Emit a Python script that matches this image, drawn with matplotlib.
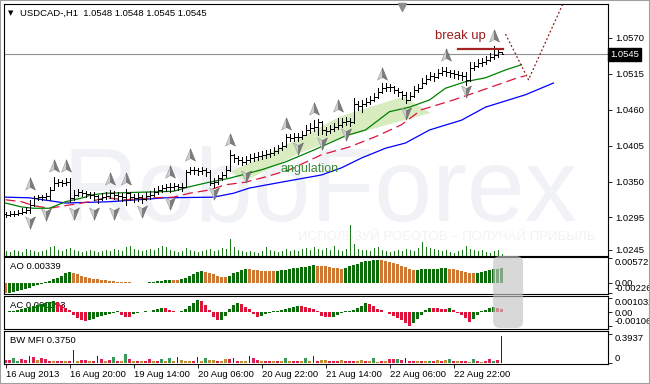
import matplotlib
matplotlib.use('Agg')
import matplotlib.pyplot as plt
import numpy as np
from matplotlib.path import Path
from matplotlib.patches import Polygon, FancyBboxPatch, Rectangle
from matplotlib.transforms import IdentityTransform, blended_transform_factory

plt.rcParams['font.family'] = ['Liberation Sans', 'DejaVu Sans']

symbol = 'USDCAD-,H1'
last_quote = [1.0548, 1.0548, 1.0545, 1.0545]
bid = 1.0545

# H1 bars, one per hour
opens = [1.0300, 1.0299, 1.0300, 1.0300, 1.0302, 1.0303, 1.0306, 1.0314, 1.0325, 1.0326,
         1.0326, 1.0328, 1.0337, 1.0348, 1.0349, 1.0348, 1.0349, 1.0325, 1.0329, 1.0334,
         1.0332, 1.0331, 1.0329, 1.0328, 1.0323, 1.0326, 1.0328, 1.0332, 1.0329, 1.0328,
         1.0326, 1.0332, 1.0326, 1.0325, 1.0326, 1.0323, 1.0328, 1.0329, 1.0334, 1.0337,
         1.0340, 1.0342, 1.0342, 1.0343, 1.0342, 1.0342, 1.0365, 1.0368, 1.0368, 1.0366,
         1.0368, 1.0365, 1.0348, 1.0349, 1.0355, 1.0360, 1.0368, 1.0391, 1.0386, 1.0383,
         1.0380, 1.0383, 1.0386, 1.0388, 1.0389, 1.0391, 1.0392, 1.0394, 1.0397, 1.0401,
         1.0404, 1.0418, 1.0417, 1.0418, 1.0418, 1.0421, 1.0429, 1.0432, 1.0434, 1.0441,
         1.0429, 1.0427, 1.0431, 1.0434, 1.0437, 1.0441, 1.0443, 1.0441, 1.0469, 1.0466,
         1.0469, 1.0472, 1.0475, 1.0480, 1.0487, 1.0493, 1.0495, 1.0495, 1.0490, 1.0487,
         1.0483, 1.0475, 1.0481, 1.0490, 1.0493, 1.0501, 1.0507, 1.0512, 1.0510, 1.0516,
         1.0519, 1.0518, 1.0516, 1.0515, 1.0513, 1.0512, 1.0506, 1.0524, 1.0527, 1.0532,
         1.0533, 1.0536, 1.0541, 1.0544, 1.0548]
highs = [1.0303, 1.0305, 1.0305, 1.0306, 1.0309, 1.0311, 1.0322, 1.0328, 1.0329, 1.0329,
         1.0332, 1.0342, 1.0357, 1.0354, 1.0352, 1.0355, 1.0355, 1.0337, 1.0339, 1.0337,
         1.0335, 1.0334, 1.0334, 1.0329, 1.0332, 1.0334, 1.0337, 1.0335, 1.0334, 1.0332,
         1.0339, 1.0334, 1.0331, 1.0332, 1.0329, 1.0334, 1.0335, 1.0340, 1.0343, 1.0345,
         1.0346, 1.0348, 1.0348, 1.0346, 1.0348, 1.0368, 1.0372, 1.0372, 1.0371, 1.0372,
         1.0371, 1.0368, 1.0355, 1.0360, 1.0365, 1.0374, 1.0398, 1.0392, 1.0389, 1.0388,
         1.0389, 1.0392, 1.0394, 1.0395, 1.0397, 1.0398, 1.0400, 1.0403, 1.0406, 1.0411,
         1.0423, 1.0423, 1.0424, 1.0424, 1.0427, 1.0437, 1.0440, 1.0444, 1.0446, 1.0443,
         1.0434, 1.0437, 1.0440, 1.0447, 1.0447, 1.0449, 1.0447, 1.0478, 1.0473, 1.0475,
         1.0478, 1.0481, 1.0486, 1.0493, 1.0501, 1.0501, 1.0500, 1.0496, 1.0493, 1.0489,
         1.0487, 1.0487, 1.0496, 1.0500, 1.0509, 1.0513, 1.0518, 1.0516, 1.0522, 1.0526,
         1.0526, 1.0521, 1.0521, 1.0519, 1.0518, 1.0518, 1.0533, 1.0533, 1.0538, 1.0539,
         1.0542, 1.0547, 1.0558, 1.0552, 1.0548]
lows = [1.0296, 1.0297, 1.0297, 1.0299, 1.0300, 1.0302, 1.0302, 1.0313, 1.0322, 1.0322,
        1.0323, 1.0322, 1.0337, 1.0343, 1.0343, 1.0345, 1.0319, 1.0322, 1.0328, 1.0328,
        1.0326, 1.0325, 1.0322, 1.0317, 1.0322, 1.0323, 1.0325, 1.0323, 1.0322, 1.0320,
        1.0314, 1.0322, 1.0319, 1.0320, 1.0317, 1.0322, 1.0323, 1.0328, 1.0331, 1.0334,
        1.0335, 1.0334, 1.0337, 1.0337, 1.0335, 1.0342, 1.0362, 1.0362, 1.0360, 1.0362,
        1.0358, 1.0345, 1.0342, 1.0346, 1.0352, 1.0357, 1.0366, 1.0380, 1.0377, 1.0375,
        1.0377, 1.0380, 1.0381, 1.0383, 1.0385, 1.0386, 1.0388, 1.0391, 1.0394, 1.0398,
        1.0403, 1.0412, 1.0412, 1.0412, 1.0415, 1.0421, 1.0424, 1.0427, 1.0421, 1.0423,
        1.0421, 1.0424, 1.0427, 1.0431, 1.0434, 1.0437, 1.0435, 1.0440, 1.0460, 1.0457,
        1.0466, 1.0469, 1.0473, 1.0478, 1.0486, 1.0489, 1.0489, 1.0486, 1.0481, 1.0477,
        1.0470, 1.0475, 1.0480, 1.0487, 1.0493, 1.0500, 1.0506, 1.0504, 1.0509, 1.0513,
        1.0512, 1.0510, 1.0509, 1.0507, 1.0506, 1.0498, 1.0504, 1.0521, 1.0526, 1.0527,
        1.0530, 1.0535, 1.0538, 1.0541, 1.0545]
closes = [1.0299, 1.0300, 1.0300, 1.0302, 1.0303, 1.0306, 1.0314, 1.0325, 1.0326, 1.0326,
          1.0328, 1.0337, 1.0348, 1.0349, 1.0348, 1.0349, 1.0325, 1.0329, 1.0334, 1.0332,
          1.0331, 1.0329, 1.0328, 1.0323, 1.0326, 1.0328, 1.0332, 1.0329, 1.0328, 1.0326,
          1.0332, 1.0326, 1.0325, 1.0326, 1.0323, 1.0328, 1.0329, 1.0334, 1.0337, 1.0340,
          1.0342, 1.0342, 1.0343, 1.0342, 1.0342, 1.0365, 1.0368, 1.0368, 1.0366, 1.0368,
          1.0365, 1.0348, 1.0349, 1.0355, 1.0360, 1.0368, 1.0391, 1.0386, 1.0383, 1.0380,
          1.0383, 1.0386, 1.0388, 1.0389, 1.0391, 1.0392, 1.0394, 1.0397, 1.0401, 1.0404,
          1.0418, 1.0417, 1.0418, 1.0418, 1.0421, 1.0429, 1.0432, 1.0434, 1.0441, 1.0429,
          1.0427, 1.0431, 1.0434, 1.0437, 1.0441, 1.0443, 1.0441, 1.0469, 1.0466, 1.0469,
          1.0472, 1.0475, 1.0480, 1.0487, 1.0493, 1.0495, 1.0495, 1.0490, 1.0487, 1.0483,
          1.0475, 1.0481, 1.0490, 1.0493, 1.0501, 1.0507, 1.0512, 1.0510, 1.0516, 1.0519,
          1.0518, 1.0516, 1.0515, 1.0513, 1.0512, 1.0506, 1.0524, 1.0527, 1.0532, 1.0533,
          1.0536, 1.0541, 1.0544, 1.0549, 1.0545]
volumes = [500, 400, 600, 500, 400, 700, 600, 500, 400, 500,
           600, 900, 1000, 600, 500, 700, 800, 600, 500, 400,
           500, 600, 500, 400, 500, 600, 500, 700, 600, 500,
           900, 1000, 700, 600, 500, 600, 700, 600, 800, 1000,
           900, 600, 500, 400, 500, 800, 600, 500, 400, 500,
           600, 700, 500, 600, 800, 700, 1700, 900, 600, 500,
           400, 500, 400, 300, 500, 900, 600, 500, 400, 500,
           700, 500, 600, 500, 700, 800, 600, 900, 700, 600,
           800, 600, 1000, 600, 500, 700, 3100, 1200, 700, 600,
           600, 500, 800, 900, 600, 500, 400, 500, 600, 500,
           700, 600, 500, 800, 1400, 900, 800, 700, 600, 500,
           600, 400, 300, 500, 600, 1000, 700, 600, 500, 600,
           400, 300, 500, 600, 200]

# Alligator (read as vertices: bar index, price)
jaw_idx = [0, 6, 15, 26, 40, 52, 57, 61, 69, 79, 84, 89, 95, 100, 106, 114, 120, 130, 137]
jaw_val = [1.0326, 1.0325, 1.0317, 1.0319, 1.0325, 1.0326, 1.0332, 1.0340, 1.0349, 1.0360,
           1.0371, 1.0386, 1.0401, 1.0409, 1.0429, 1.0444, 1.0464, 1.0483, 1.0501]
teeth_idx = [0, 4, 7, 11, 16, 21, 25, 30, 37, 42, 46, 51, 55, 60, 65, 71, 79, 86, 93, 99,
             104, 112, 122, 128, 130]
teeth_val = [1.0322, 1.0319, 1.0313, 1.0309, 1.0314, 1.0319, 1.0325, 1.0322, 1.0325, 1.0326,
             1.0332, 1.0337, 1.0345, 1.0349, 1.0357, 1.0368, 1.0391, 1.0403, 1.0420, 1.0437,
             1.0460, 1.0475, 1.0496, 1.0509, 1.0512]
lips_idx = [0, 4, 7, 11, 15, 20, 21, 25, 42, 46, 51, 56, 64, 70, 77, 85, 90, 96, 101, 106,
            110, 115, 120, 125, 129]
lips_val = [1.0317, 1.0311, 1.0309, 1.0309, 1.0319, 1.0326, 1.0329, 1.0332, 1.0335, 1.0342,
            1.0349, 1.0355, 1.0368, 1.0380, 1.0398, 1.0420, 1.0429, 1.0457, 1.0464, 1.0475,
            1.0493, 1.0503, 1.0509, 1.0521, 1.0529]

# fractals
frac_up_idx = [6, 12, 15, 26, 30, 41, 46, 56, 70, 77, 83, 94, 110, 122]
frac_up_price = [1.0345, 1.0372, 1.0372, 1.0352, 1.0352, 1.0363, 1.0389, 1.0412, 1.0437,
                 1.0460, 1.0464, 1.0514, 1.0542, 1.0572]
frac_dn_idx = [6, 10, 17, 22, 27, 34, 41, 52, 60, 73, 79, 85, 100, 115]
frac_dn_price = [1.0289, 1.0302, 1.0303, 1.0303, 1.0303, 1.0306, 1.0319, 1.0334, 1.0360,
                 1.0403, 1.0411, 1.0424, 1.0457, 1.0490]

ao = [-0.00228, -0.00217, -0.00205, -0.00189, -0.00164, -0.00137, -0.00105, -0.00073, -0.00041, -0.00014,
      0.00018, 0.00050, 0.00087, 0.00125, 0.00171, 0.00217, 0.00251, 0.00233, 0.00196, 0.00164,
      0.00137, 0.00114, 0.00096, 0.00082, 0.00068, 0.00059, 0.00050, 0.00041, 0.00032, 0.00025,
      0.00018, 0.00014, 0.00011, 0.00009, 0.00007, 0.00011, 0.00018, 0.00030, 0.00043, 0.00055,
      0.00066, 0.00073, 0.00068, 0.00064, 0.00082, 0.00114, 0.00160, 0.00205, 0.00242, 0.00269,
      0.00251, 0.00219, 0.00194, 0.00171, 0.00148, 0.00137, 0.00164, 0.00217, 0.00262, 0.00296,
      0.00319, 0.00308, 0.00296, 0.00287, 0.00278, 0.00274, 0.00269, 0.00264, 0.00278, 0.00292,
      0.00306, 0.00319, 0.00333, 0.00347, 0.00360, 0.00374, 0.00388, 0.00401, 0.00394, 0.00388,
      0.00378, 0.00365, 0.00347, 0.00333, 0.00319, 0.00342, 0.00378, 0.00410, 0.00440, 0.00470,
      0.00492, 0.00513, 0.00524, 0.00534, 0.00524, 0.00508, 0.00486, 0.00456, 0.00426, 0.00394,
      0.00358, 0.00324, 0.00292, 0.00301, 0.00310, 0.00317, 0.00321, 0.00326, 0.00328, 0.00331,
      0.00333, 0.00324, 0.00308, 0.00287, 0.00267, 0.00249, 0.00235, 0.00226, 0.00237, 0.00255,
      0.00274, 0.00292, 0.00310, 0.00326, 0.00339]
ac = [0.000023, 0.000045, 0.000075, 0.000113, 0.000188, 0.000263, 0.000338, 0.000413, 0.000488, 0.000563,
      0.000638, 0.000713, 0.000788, 0.000750, 0.000525, 0.000300, 0.000113, -0.000225, -0.000450, -0.000600,
      -0.000675, -0.000600, -0.000488, -0.000375, -0.000300, -0.000225, -0.000150, -0.000075, 0.000038, -0.000225,
      -0.000375, -0.000390, -0.000150, -0.000075, 0.000023, 0.000045, 0.000023, 0.000113, 0.000225, 0.000300,
      0.000263, 0.000150, 0.000038, 0.000015, 0.000075, 0.000225, 0.000450, 0.000675, 0.000900, 0.000825,
      0.000525, 0.000150, -0.000375, -0.000600, -0.000563, -0.000300, 0.000225, 0.000525, 0.000675, 0.000600,
      0.000375, 0.000188, -0.000150, -0.000375, -0.000263, -0.000150, -0.000075, 0.000038, 0.000075, 0.000113,
      0.000188, 0.000300, 0.000375, 0.000450, 0.000413, 0.000338, 0.000263, 0.000188, 0.000075, -0.000300,
      -0.000375, -0.000390, -0.000338, -0.000225, -0.000038, 0.000038, 0.000075, 0.000150, 0.000300, 0.000450,
      0.000675, 0.000600, 0.000450, 0.000225, 0.000113, -0.000023, -0.000150, -0.000300, -0.000450, -0.000600,
      -0.000825, -0.001060, -0.000825, -0.000488, -0.000188, 0.000150, 0.000300, 0.000285, 0.000270, 0.000255,
      0.000240, 0.000263, 0.000150, -0.000038, -0.000225, -0.000450, -0.000713, -0.000525, -0.000225, 0.000038,
      0.000150, 0.000263, 0.000338, 0.000300, 0.000193]
mfi = [0.038, 0.038, 0.060, 0.028, 0.046, 0.038, 0.093, 0.074, 0.038, 0.060,
       0.049, 0.028, 0.021, 0.028, 0.025, 0.017, 0.021, 0.177, 0.028, 0.038,
       0.035, 0.024, 0.017, 0.093, 0.046, 0.021, 0.038, 0.074, 0.028, 0.018,
       0.121, 0.046, 0.021, 0.028, 0.017, 0.021, 0.046, 0.021, 0.017, 0.046,
       0.021, 0.060, 0.018, 0.083, 0.038, 0.028, 0.028, 0.021, 0.083, 0.021,
       0.060, 0.038, 0.038, 0.017, 0.021, 0.051, 0.051, 0.060, 0.021, 0.028,
       0.017, 0.097, 0.060, 0.038, 0.017, 0.028, 0.028, 0.028, 0.017, 0.021,
       0.060, 0.021, 0.028, 0.021, 0.017, 0.060, 0.021, 0.097, 0.021, 0.038,
       0.038, 0.028, 0.028, 0.021, 0.038, 0.017, 0.024, 0.024, 0.017, 0.038,
       0.028, 0.017, 0.060, 0.014, 0.017, 0.017, 0.051, 0.051, 0.046, 0.038,
       0.060, 0.028, 0.028, 0.017, 0.017, 0.017, 0.028, 0.017, 0.038, 0.017,
       0.038, 0.046, 0.017, 0.017, 0.021, 0.028, 0.014, 0.046, 0.017, 0.014,
       0.017, 0.046, 0.028, 0.038, 0.375]
# g = green, f = fade, k = fake, s = squat
mfi_state = list("ssggssksfs" "ssfssfskfs" "sfsksfsgsf" "gsfsfssfsg" "fgfkfffskf"
                 "gffsffsksf" "fkssfssfsf" "gfssfgfksf" "fsssfsssff" "sfgfsfssgs"
                 "kssfsfgsfs" "fgsfssfgsf" "ssgsk")

time_idx = [0, 16, 32, 48, 64, 80, 96, 112]
time_labels = ['16 Aug 2013', '16 Aug 20:00', '19 Aug 14:00', '20 Aug 06:00',
               '20 Aug 22:00', '21 Aug 14:00', '22 Aug 06:00', '22 Aug 22:00']
price_ticks = [1.0570, 1.0515, 1.0460, 1.0405, 1.0350, 1.0295, 1.0245]
ao_ticks = [0.00572, 0.0, -0.00226]
ao_tick_labels = ['0.00572', '0.00', '-0.00226']
ac_ticks = [0.001032, 0.0, -0.00106]
ac_tick_labels = ['0.001032', '0.00', '-0.00106']
mfi_ticks = [0.3937, 0.0]
mfi_tick_labels = ['0.3937', '0']

# annotations (bar index, price)
ang_idx = [56.25, 73.75, 83.75, 99.5, 106.25, 83.75, 73.75, 60]
ang_price = [1.0365, 1.0417, 1.0450, 1.0480, 1.0455, 1.0417, 1.0394, 1.0351]
breakup_idx = [113, 124.25]
breakup_price = 1.0553
projection_idx = [125, 130.75, 139.25]
projection_price = [1.0576, 1.0506, 1.0621]

W, H = 650, 384
fig = plt.figure(figsize=(W / 100, H / 100), dpi=100, facecolor='white')


def panel(top, bottom):
    return fig.add_axes([4 / W, (H - bottom) / H, 604 / W, (bottom - top) / H])


ax = panel(4, 256)
ax_ao = panel(257, 294)
ax_ac = panel(296, 329)
ax_bw = panel(331, 364)
n = len(closes)
x = np.arange(n)
for a in (ax, ax_ao, ax_ac, ax_bw):
    a.set_xlim(-0.375, 150.625)
    for s in a.spines.values():
        s.set_color('black')
        s.set_linewidth(0.8)
    a.yaxis.tick_right()
    a.tick_params(axis='y', length=3, width=0.6, pad=2, labelsize=6.8, colors='black')
    a.tick_params(axis='x', bottom=False, labelbottom=False)

# main chart
ax.set_ylim(1.02358, 1.06221)
ax.set_yticks(price_ticks)
ax.set_yticklabels([f'{v:.4f}' for v in price_ticks])
ax.text(0.523, 0.143, 'RoboForex', transform=ax.transAxes, ha='center', va='baseline',
        fontsize=75, color='#f1f2f6', zorder=0)
ax.text(0.732, 0.075, 'ИСПОЛЬЗУЙ РОБОТОВ – ПОЛУЧАЙ ПРИБЫЛЬ', transform=ax.transAxes,
        ha='center', va='center', fontsize=9.5, color='#f2f2f4', zorder=0)
ax.add_patch(Polygon(np.column_stack([ang_idx, ang_price]), closed=True,
                     fc='#d9ecc0', ec='none', zorder=1))
ax.axhline(bid, color='#909090', lw=0.8, zorder=1)

ax.plot(jaw_idx, jaw_val, color='#0000ff', lw=0.9, zorder=2)
ax.plot(teeth_idx, teeth_val, color='#dc143c', lw=0.9, ls=(0, (8, 4)), zorder=2)
ax.plot(lips_idx, lips_val, color='#008000', lw=0.9, zorder=2)

ax.vlines(x, lows, highs, color='black', lw=0.7, zorder=3, antialiased=False)
ax.hlines(opens, x - 0.4, x, color='black', lw=0.7, zorder=3, antialiased=False)
ax.hlines(closes, x, x + 0.4, color='black', lw=0.7, zorder=3, antialiased=False)

# fractal arrows, shaded in two halves
up_l = Path([(0, 1), (0, -0.25), (-0.65, -0.6), (0, 1)])
up_r = Path([(0, 1), (0.65, -0.6), (0, -0.25), (0, 1)])
dn_l = Path([(0, -1), (0, 0.25), (-0.65, 0.6), (0, -1)])
dn_r = Path([(0, -1), (0.65, 0.6), (0, 0.25), (0, -1)])
for xs, ys, pl, pr in ((frac_up_idx, frac_up_price, up_l, up_r),
                       (frac_dn_idx, frac_dn_price, dn_l, dn_r)):
    ax.plot(xs, ys, ls='none', marker=pl, ms=11, mfc='#d0d0d0', mec='#9a9a9a', mew=0.4, zorder=4)
    ax.plot(xs, ys, ls='none', marker=pr, ms=11, mfc='#7c7c7c', mec='#6a6a6a', mew=0.4, zorder=4)

ax.text(113.75, 1.0573, 'break up', color='#9b1c1c', fontsize=9.4, ha='center', va='center', zorder=5)
ax.plot(breakup_idx, [breakup_price] * 2, color='#a52222', lw=1.6, zorder=5)
ax.plot(projection_idx, projection_price, color='#8b1a1a', lw=0.9, ls=(0, (1.5, 1.8)), zorder=5,
        clip_on=False)
ax.text(68.75, 1.0369, 'angulation', color='#3a8a3a', fontsize=9, ha='left', va='center', zorder=5)

ax.text(0.0265, 0.964, f'{symbol}  ' + ' '.join(f'{v:.4f}' for v in last_quote),
        transform=ax.transAxes, fontsize=6.8, ha='left', va='center')
ax.text(0.0066, 0.964, '▼', transform=ax.transAxes, fontsize=5, ha='left', va='center',
        family='DejaVu Sans')
ax.plot([0.659], [0.99], transform=ax.transAxes, marker='v', color='#8c8c8c', ms=6,
        clip_on=False, zorder=6)
ax.text(1.004, bid, f'{bid:.4f}', transform=blended_transform_factory(ax.transAxes, ax.transData),
        ha='left', va='center', fontsize=6.8, color='white', clip_on=False,
        bbox=dict(boxstyle='square,pad=0.22', fc='black', ec='black'))

# volumes at the bottom of the main chart
ax_vol = fig.add_axes(ax.get_position(), sharex=ax)
ax_vol.patch.set_visible(False)
ax_vol.axis('off')
ax_vol.set_ylim(0, 25200)
ax_vol.vlines(x, 0, volumes, color='#1a7a1a', lw=0.7, antialiased=False)

# Awesome Oscillator
ao_colors = ['#0b6e0b' if i > 0 and ao[i] > ao[i - 1] else '#cf7832' for i in range(n)]
ax_ao.bar(x, ao, width=0.72, color=ao_colors, zorder=2)
ax_ao.set_ylim(-0.00251, 0.00593)
ax_ao.set_yticks(ao_ticks)
ax_ao.set_yticklabels(ao_tick_labels)
ax_ao.text(0.01, 0.73, f'AO {ao[-1]:.5f}', transform=ax_ao.transAxes, fontsize=6.8,
           va='center', zorder=1)

# Accelerator Oscillator
ac_colors = ['#0b6e0b' if i == 0 or ac[i] > ac[i - 1] else '#dc143c' for i in range(n)]
ax_ac.bar(x, ac, width=0.72, color=ac_colors, zorder=2)
ax_ac.set_ylim(-0.001275, 0.0012)
ax_ac.set_yticks(ac_ticks)
ax_ac.set_yticklabels(ac_tick_labels)
ax_ac.text(0.01, 0.727, f'AC {ac[-1]:.6f}', transform=ax_ac.transAxes, fontsize=6.8,
           va='center', zorder=1)

# Market Facilitation Index
state_colors = {'g': '#3a9a5a', 'f': '#c09030', 'k': '#1a1a8c', 's': '#dc2050'}
mfi_colors = [state_colors[s] for s in mfi_state]
mfi_widths = [0.25 if s == 'k' else 0.72 for s in mfi_state]
ax_bw.bar(x, mfi, width=mfi_widths, color=mfi_colors, zorder=2)
ax_bw.set_ylim(-0.018, 0.44)
ax_bw.set_yticks(mfi_ticks)
ax_bw.set_yticklabels(mfi_tick_labels)
ax_bw.text(0.01, 0.727, f'BW MFI {mfi[-1]:.4f}', transform=ax_bw.transAxes, fontsize=6.8,
           va='center', zorder=1)
ax_bw.set_xticks(time_idx)
ax_bw.set_xticklabels(time_labels, ha='left', fontsize=6.8)
ax_bw.tick_params(axis='x', bottom=True, labelbottom=True, length=3, width=0.6, pad=1.5)

for a in (ax_ao, ax_ac, ax_bw):
    labs = a.get_yticklabels()
    labs[0].set_va('top')
    labs[-1].set_va('bottom')

# grey highlight box across AO and AC
x0 = ax_ao.transData.transform((121.9, 0))[0]
x1 = ax_ao.transData.transform((129.4, 0))[0]
fig.add_artist(FancyBboxPatch((x0, H - 328), x1 - x0, 72, boxstyle='round,pad=0,rounding_size=7',
                              transform=IdentityTransform(), fc='#c4c4c4', ec='none',
                              alpha=0.65, zorder=5))
fig.add_artist(Rectangle((0, 0), 1, 1, transform=fig.transFigure, fill=False,
                         ec='#a0a0a0', lw=1.5))

fig.savefig('out.png', dpi=100)
